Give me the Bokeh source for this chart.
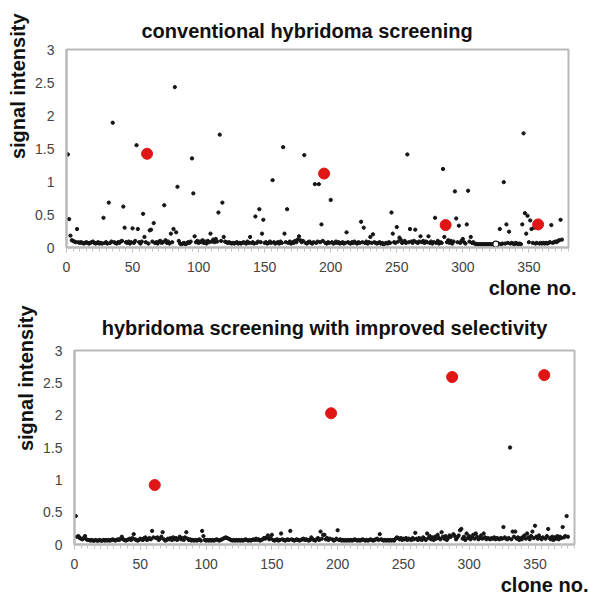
from bokeh.plotting import figure
from bokeh.layouts import column, row
from bokeh.models import FixedTicker, Range1d, Title, Spacer
from bokeh.embed import file_html
from bokeh.resources import INLINE

# ---------------- data ----------------
clones = list(range(1, 376))

signal_conv = [
    1.41, 0.43, 0.18, 0.11, 0.10, 0.09, 0.08, 0.28, 0.08, 0.07, 0.08, 0.07, 0.06, 0.07, 0.08, 0.07, 0.06, 0.07, 0.08, 0.09, 0.07, 0.06, 0.07, 0.08, 0.06,
    0.07, 0.06, 0.45, 0.07, 0.08, 0.06, 0.68, 0.07, 0.09, 1.89, 0.08, 0.07, 0.06, 0.08, 0.07, 0.09, 0.10, 0.62, 0.30, 0.08, 0.07, 0.09, 0.06, 0.08, 0.29,
    0.07, 0.10, 1.55, 0.28, 0.08, 0.06, 0.09, 0.51, 0.16, 0.08, 1.42, 0.06, 0.26, 0.27, 0.09, 0.37, 0.07, 0.08, 0.06, 0.09, 0.10, 0.07, 0.08, 0.64, 0.11,
    0.07, 0.09, 0.06, 0.21, 0.08, 0.28, 2.43, 0.23, 0.92, 0.10, 0.06, 0.05, 0.06, 0.07, 0.05, 0.06, 0.08, 0.07, 0.09, 1.35, 0.82, 0.17, 0.08, 0.10, 0.07,
    0.09, 0.08, 0.11, 0.07, 0.09, 0.06, 0.10, 0.08, 0.21, 0.09, 0.12, 0.08, 0.13, 0.09, 0.53, 1.71, 0.10, 0.68, 0.16, 0.09, 0.08, 0.07, 0.08, 0.07, 0.06,
    0.07, 0.06, 0.07, 0.08, 0.06, 0.07, 0.06, 0.07, 0.08, 0.07, 0.06, 0.09, 0.07, 0.16, 0.07, 0.08, 0.06, 0.47, 0.07, 0.09, 0.58, 0.08, 0.21, 0.42, 0.07,
    0.08, 0.06, 0.07, 0.09, 0.07, 1.02, 0.08, 0.06, 0.07, 0.08, 0.06, 0.09, 0.07, 1.52, 0.21, 0.08, 0.58, 0.07, 0.09, 0.06, 0.08, 0.07, 0.10, 0.08, 0.12,
    0.17, 0.11, 0.08, 0.10, 1.40, 0.07, 0.06, 0.08, 0.09, 0.07, 0.06, 0.08, 0.96, 0.07, 0.09, 0.96, 0.08, 0.35, 0.10, 1.12, 0.07, 0.06, 0.08, 0.07, 0.72,
    0.08, 0.06, 0.07, 0.09, 0.07, 0.08, 0.06, 0.07, 0.08, 0.06, 0.07, 0.23, 0.08, 0.07, 0.06, 0.08, 0.07, 0.09, 0.07, 0.06, 0.08, 0.07, 0.39, 0.08, 0.30,
    0.07, 0.09, 0.06, 0.08, 0.16, 0.07, 0.20, 0.08, 0.07, 0.06, 0.07, 0.08, 0.06, 0.07, 0.05, 0.06, 0.07, 0.06, 0.08, 0.07, 0.53, 0.21, 0.08, 0.07, 0.31,
    0.09, 0.15, 0.12, 0.07, 0.08, 0.10, 0.07, 1.41, 0.08, 0.28, 0.09, 0.07, 0.10, 0.27, 0.08, 0.07, 0.09, 0.17, 0.08, 0.10, 0.07, 0.09, 0.08, 0.17, 0.07,
    0.09, 0.06, 0.08, 0.45, 0.07, 0.10, 0.06, 0.08, 0.07, 1.19, 0.16, 0.34, 0.08, 0.11, 0.07, 0.10, 0.06, 0.09, 0.85, 0.44, 0.08, 0.33, 0.07, 0.10, 0.13,
    0.08, 0.06, 0.35, 0.86, 0.09, 0.16, 0.07, 0.08, 0.06, 0.05, 0.05, 0.05, 0.05, 0.05, 0.05, 0.05, 0.05, 0.05, 0.05, 0.05, 0.05, 0.05, 0.05, 0.05, 0.05,
    0.05, 0.06, 0.28, 0.05, 0.06, 0.99, 0.06, 0.35, 0.07, 0.24, 0.06, 0.07, 0.06, 0.05, 0.07, 0.06, 0.05, 0.06, 0.05, 0.35, 1.73, 0.52, 0.21, 0.48, 0.08,
    0.41, 0.28, 0.07, 0.30, 0.06, 0.07, 0.35, 0.06, 0.07, 0.06, 0.07, 0.06, 0.07, 0.06, 0.07, 0.08, 0.34, 0.07, 0.08, 0.09, 0.08, 0.10, 0.11, 0.42, 0.12,
]

signal_sel = [
    0.44, 0.12, 0.13, 0.10, 0.09, 0.08, 0.10, 0.13, 0.08, 0.07, 0.07, 0.06, 0.07, 0.06, 0.06, 0.07, 0.06, 0.06, 0.07, 0.06, 0.06, 0.07, 0.06, 0.07, 0.06,
    0.07, 0.06, 0.07, 0.08, 0.07, 0.06, 0.07, 0.08, 0.07, 0.09, 0.12, 0.08, 0.07, 0.06, 0.07, 0.08, 0.09, 0.07, 0.10, 0.16, 0.08, 0.07, 0.06, 0.07, 0.09,
    0.08, 0.07, 0.10, 0.11, 0.07, 0.08, 0.10, 0.08, 0.21, 0.11, 0.92, 0.10, 0.11, 0.07, 0.09, 0.12, 0.19, 0.08, 0.06, 0.07, 0.09, 0.08, 0.10, 0.07, 0.11,
    0.08, 0.10, 0.07, 0.09, 0.12, 0.08, 0.10, 0.07, 0.11, 0.19, 0.09, 0.07, 0.08, 0.06, 0.07, 0.06, 0.07, 0.06, 0.07, 0.08, 0.06, 0.21, 0.13, 0.07, 0.06,
    0.07, 0.06, 0.07, 0.06, 0.07, 0.06, 0.07, 0.08, 0.07, 0.06, 0.07, 0.08, 0.09, 0.10, 0.11, 0.10, 0.09, 0.08, 0.07, 0.06, 0.07, 0.06, 0.07, 0.06, 0.07,
    0.06, 0.07, 0.06, 0.07, 0.08, 0.07, 0.06, 0.07, 0.06, 0.07, 0.08, 0.07, 0.09, 0.07, 0.08, 0.06, 0.07, 0.08, 0.10, 0.09, 0.11, 0.14, 0.08, 0.10, 0.15,
    0.07, 0.06, 0.07, 0.08, 0.06, 0.07, 0.17, 0.08, 0.07, 0.06, 0.07, 0.08, 0.07, 0.21, 0.08, 0.07, 0.06, 0.07, 0.08, 0.07, 0.06, 0.07, 0.08, 0.09, 0.07,
    0.08, 0.07, 0.06, 0.07, 0.11, 0.08, 0.07, 0.06, 0.08, 0.10, 0.07, 0.20, 0.09, 0.15, 0.15, 0.08, 0.10, 0.07, 0.09, 2.03, 0.08, 0.06, 0.07, 0.09, 0.22,
    0.07, 0.08, 0.06, 0.07, 0.06, 0.07, 0.06, 0.07, 0.06, 0.07, 0.06, 0.07, 0.08, 0.07, 0.06, 0.07, 0.06, 0.07, 0.08, 0.07, 0.06, 0.07, 0.06, 0.07, 0.08,
    0.07, 0.06, 0.07, 0.08, 0.09, 0.07, 0.16, 0.08, 0.07, 0.06, 0.07, 0.06, 0.07, 0.06, 0.07, 0.06, 0.07, 0.06, 0.09, 0.11, 0.10, 0.08, 0.10, 0.07, 0.09,
    0.08, 0.10, 0.07, 0.09, 0.08, 0.07, 0.10, 0.08, 0.18, 0.09, 0.07, 0.10, 0.08, 0.07, 0.11, 0.09, 0.07, 0.17, 0.10, 0.13, 0.08, 0.11, 0.07, 0.12, 0.09,
    0.15, 0.10, 0.08, 0.19, 0.12, 0.09, 0.13, 0.07, 0.10, 0.14, 0.12, 2.59, 0.16, 0.13, 0.08, 0.11, 0.14, 0.22, 0.24, 0.09, 0.12, 0.07, 0.17, 0.10, 0.13,
    0.08, 0.11, 0.15, 0.09, 0.17, 0.12, 0.08, 0.10, 0.14, 0.09, 0.17, 0.11, 0.08, 0.10, 0.09, 0.08, 0.10, 0.09, 0.11, 0.08, 0.10, 0.09, 0.08, 0.10, 0.09,
    0.27, 0.11, 0.09, 0.08, 0.10, 1.50, 0.08, 0.20, 0.12, 0.20, 0.09, 0.11, 0.07, 0.10, 0.08, 0.12, 0.14, 0.09, 0.17, 0.11, 0.08, 0.13, 0.20, 0.10, 0.29,
    0.12, 0.09, 0.14, 0.10, 0.08, 0.11, 2.62, 0.09, 0.13, 0.24, 0.10, 0.08, 0.12, 0.07, 0.11, 0.09, 0.13, 0.08, 0.12, 0.10, 0.27, 0.11, 0.13, 0.44, 0.12,
]

red_clones = [61, 195, 287, 357]
red_conv = [1.42, 1.12, 0.34, 0.35]
red_sel = [0.92, 2.03, 2.59, 2.62]

open_clone = [325]
open_conv = [0.05]

x_ticks = [0, 50, 100, 150, 200, 250, 300, 350]
y_ticks = [0, 0.5, 1, 1.5, 2, 2.5, 3]
y_tick_labels = ["0", "0.5", "1", "1.5", "2", "2.5", "3"]

title_conv = "conventional hybridoma screening"
title_sel = "hybridoma screening with improved selectivity"
y_label = "signal intensity"
x_label = "clone no."

# ---------------- styling ----------------
FONT = "Liberation Sans"
BIG = "20px"
TICK = "14px"
FRAME = "#b9b9b9"


def big_title(text, **kw):
    return Title(text=text, text_font=FONT, text_font_size=BIG, text_font_style="bold",
                 text_color="#111111", **kw)


def panel(sig, red_sig, width, height, bl, br, bt, bb):
    p = figure(width=width, height=height, x_range=Range1d(0, 380), y_range=Range1d(0, 3),
               output_backend="svg", toolbar_location=None,
               min_border_left=bl, min_border_right=br, min_border_top=bt, min_border_bottom=bb)
    p.grid.visible = False
    p.background_fill_color = "white"
    p.border_fill_color = "white"
    p.outline_line_color = FRAME
    p.outline_line_width = 2

    p.scatter(clones, sig, size=3.3, color="#151515")
    p.scatter(red_clones, red_sig, size=11, color="#e01616")

    xa = p.xaxis[0]
    xa.ticker = FixedTicker(ticks=x_ticks, minor_ticks=list(range(0, 381, 5)))
    xa.axis_line_color = FRAME
    xa.axis_line_width = 2
    xa.major_tick_line_color = FRAME
    xa.major_tick_out = 5
    xa.major_tick_in = 0
    xa.minor_tick_line_color = "#c4c4c4"
    xa.minor_tick_out = 4
    xa.minor_tick_in = 0
    xa.major_label_standoff = 9
    xa.major_label_text_font = FONT
    xa.major_label_text_font_size = TICK
    xa.major_label_text_color = "#444444"

    ya = p.yaxis[0]
    ya.ticker = FixedTicker(ticks=y_ticks)
    ya.major_label_overrides = {t: l for t, l in zip(y_ticks, y_tick_labels)}
    ya.axis_line_color = FRAME
    ya.axis_line_width = 2
    ya.major_tick_line_color = None
    ya.major_tick_out = 0
    ya.major_tick_in = 0
    ya.minor_tick_line_color = None
    ya.major_label_standoff = 12
    ya.major_label_text_font = FONT
    ya.major_label_text_font_size = TICK
    ya.major_label_text_color = "#444444"
    return p


p1 = panel(signal_conv, red_conv, 589, 298, 65, 21, 49, 51)
p1.title = big_title(title_conv, align="left", offset=75, standoff=16)
p1.add_layout(big_title(x_label, align="right", offset=-8, standoff=0), "below")
p1.add_layout(big_title(y_label, align="right", offset=-36, standoff=8), "left")
p1.scatter(open_clone, open_conv, size=6, line_color="#151515", fill_color="white", line_width=1.2)

p2 = panel(signal_sel, red_sel, 581, 297, 65, 15, 52, 47)
p2.title = big_title(title_sel, align="center", standoff=24)
p2.add_layout(big_title(x_label, align="right", offset=-14, standoff=0), "below")
p2.add_layout(big_title(y_label, align="right", offset=-45, standoff=8), "left")

layout = column(p1, row(Spacer(width=8), p2))
open("out.html", "w").write(file_html(layout, INLINE))
